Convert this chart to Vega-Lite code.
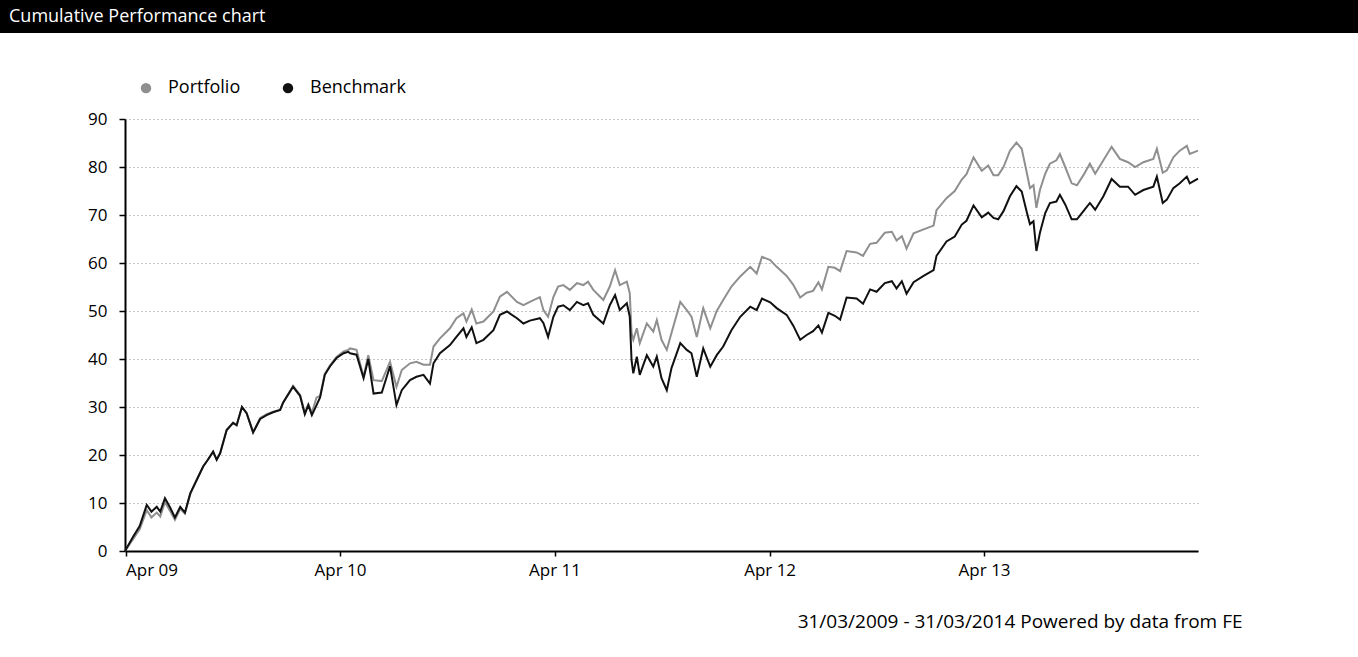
{
  "$schema": "https://vega.github.io/schema/vega-lite/v6.json",
  "padding": {"left": 0, "top": 0, "right": 0, "bottom": 30},
  "background": "white",
  "spacing": 46,
  "resolve": {"legend": {"color": "independent"}},
  "config": {"font": "Open Sans", "view": {"stroke": null}},
  "vconcat": [
    {
      "width": 1358,
      "height": 33,
      "view": {"fill": "black", "stroke": null},
      "title": {"text": "Cumulative Performance chart", "anchor": "start", "orient": "top", "offset": -17, "dy": 18, "baseline": "middle", "dx": 9, "color": "white", "fontSize": 18, "fontWeight": "normal", "font": "Open Sans"},
      "data": {"values": [{"t": ""}]},
      "mark": {"type": "text", "color": "white"},
      "encoding": {"text": {"field": "t"}}
    },
    {
      "width": 1358,
      "height": 432,
      "data": {"values": [
        {"date": "2009-03-31", "Portfolio": 0, "Benchmark": 0},
        {"date": "2009-04-14", "Portfolio": 2.5, "Benchmark": 3},
        {"date": "2009-04-25", "Portfolio": 4.5, "Benchmark": 5.2},
        {"date": "2009-05-07", "Portfolio": 8.5, "Benchmark": 9.6},
        {"date": "2009-05-15", "Portfolio": 7.0, "Benchmark": 8.2},
        {"date": "2009-05-24", "Portfolio": 8.0, "Benchmark": 9.2},
        {"date": "2009-05-30", "Portfolio": 7.2, "Benchmark": 8.2},
        {"date": "2009-06-07", "Portfolio": 10.2, "Benchmark": 11.0},
        {"date": "2009-06-16", "Portfolio": 8.3, "Benchmark": 9.0},
        {"date": "2009-06-24", "Portfolio": 6.5, "Benchmark": 7.0},
        {"date": "2009-07-03", "Portfolio": 8.8, "Benchmark": 9.2},
        {"date": "2009-07-11", "Portfolio": 7.8, "Benchmark": 8.0},
        {"date": "2009-07-20", "Portfolio": 11.8, "Benchmark": 12.0},
        {"date": "2009-07-31", "Portfolio": 14.8, "Benchmark": 14.8},
        {"date": "2009-08-11", "Portfolio": 17.6, "Benchmark": 17.6},
        {"date": "2009-08-19", "Portfolio": 19.0, "Benchmark": 19.0},
        {"date": "2009-08-28", "Portfolio": 20.7, "Benchmark": 20.7},
        {"date": "2009-09-03", "Portfolio": 19.0, "Benchmark": 19.0},
        {"date": "2009-09-09", "Portfolio": 20.4, "Benchmark": 20.4},
        {"date": "2009-09-20", "Portfolio": 25.2, "Benchmark": 25.2},
        {"date": "2009-10-01", "Portfolio": 26.7, "Benchmark": 26.7},
        {"date": "2009-10-07", "Portfolio": 26.2, "Benchmark": 26.2},
        {"date": "2009-10-16", "Portfolio": 30.0, "Benchmark": 30.0},
        {"date": "2009-10-24", "Portfolio": 28.7, "Benchmark": 28.7},
        {"date": "2009-11-04", "Portfolio": 24.7, "Benchmark": 24.7},
        {"date": "2009-11-16", "Portfolio": 27.7, "Benchmark": 27.5},
        {"date": "2009-11-27", "Portfolio": 28.5, "Benchmark": 28.3},
        {"date": "2009-12-08", "Portfolio": 29.0, "Benchmark": 28.9},
        {"date": "2009-12-20", "Portfolio": 29.4, "Benchmark": 29.4},
        {"date": "2009-12-25", "Portfolio": 30.9, "Benchmark": 30.9},
        {"date": "2010-01-11", "Portfolio": 34.4, "Benchmark": 34.2},
        {"date": "2010-01-23", "Portfolio": 32.5, "Benchmark": 32.3},
        {"date": "2010-01-31", "Portfolio": 28.8, "Benchmark": 28.5},
        {"date": "2010-02-06", "Portfolio": 30.6, "Benchmark": 30.4},
        {"date": "2010-02-12", "Portfolio": 28.8, "Benchmark": 28.3},
        {"date": "2010-02-20", "Portfolio": 32.0, "Benchmark": 30.4},
        {"date": "2010-02-26", "Portfolio": 32.3, "Benchmark": 32.0},
        {"date": "2010-03-06", "Portfolio": 36.9, "Benchmark": 36.7},
        {"date": "2010-03-15", "Portfolio": 38.7, "Benchmark": 38.5},
        {"date": "2010-03-26", "Portfolio": 40.4, "Benchmark": 40.2},
        {"date": "2010-04-07", "Portfolio": 41.6, "Benchmark": 41.2},
        {"date": "2010-04-15", "Portfolio": 41.9, "Benchmark": 41.5},
        {"date": "2010-04-18", "Portfolio": 42.2, "Benchmark": 41.2},
        {"date": "2010-04-29", "Portfolio": 41.9, "Benchmark": 40.9},
        {"date": "2010-05-11", "Portfolio": 36.3, "Benchmark": 36.0},
        {"date": "2010-05-19", "Portfolio": 40.8, "Benchmark": 40.0},
        {"date": "2010-05-28", "Portfolio": 35.6, "Benchmark": 32.8},
        {"date": "2010-06-11", "Portfolio": 35.4, "Benchmark": 33.0},
        {"date": "2010-06-25", "Portfolio": 39.4, "Benchmark": 38.5},
        {"date": "2010-07-06", "Portfolio": 34.2, "Benchmark": 30.4},
        {"date": "2010-07-15", "Portfolio": 37.7, "Benchmark": 33.5},
        {"date": "2010-07-29", "Portfolio": 39.1, "Benchmark": 35.6},
        {"date": "2010-08-09", "Portfolio": 39.4, "Benchmark": 36.3},
        {"date": "2010-08-21", "Portfolio": 38.8, "Benchmark": 36.7},
        {"date": "2010-09-01", "Portfolio": 38.8, "Benchmark": 34.9},
        {"date": "2010-09-07", "Portfolio": 42.6, "Benchmark": 39.1},
        {"date": "2010-09-18", "Portfolio": 44.3, "Benchmark": 41.2},
        {"date": "2010-10-05", "Portfolio": 46.4, "Benchmark": 42.9},
        {"date": "2010-10-16", "Portfolio": 48.5, "Benchmark": 44.6},
        {"date": "2010-10-28", "Portfolio": 49.5, "Benchmark": 46.4},
        {"date": "2010-11-02", "Portfolio": 47.8, "Benchmark": 44.6},
        {"date": "2010-11-11", "Portfolio": 50.3, "Benchmark": 46.6},
        {"date": "2010-11-19", "Portfolio": 47.4, "Benchmark": 43.3},
        {"date": "2010-12-01", "Portfolio": 47.8, "Benchmark": 44.0},
        {"date": "2010-12-18", "Portfolio": 49.9, "Benchmark": 46.0},
        {"date": "2010-12-29", "Portfolio": 53.0, "Benchmark": 49.2},
        {"date": "2011-01-10", "Portfolio": 54.0, "Benchmark": 49.9},
        {"date": "2011-01-27", "Portfolio": 51.9, "Benchmark": 48.5},
        {"date": "2011-02-07", "Portfolio": 51.2, "Benchmark": 47.4},
        {"date": "2011-02-18", "Portfolio": 51.9, "Benchmark": 48.0},
        {"date": "2011-03-07", "Portfolio": 52.9, "Benchmark": 48.5},
        {"date": "2011-03-13", "Portfolio": 50.2, "Benchmark": 47.5},
        {"date": "2011-03-21", "Portfolio": 48.8, "Benchmark": 44.6},
        {"date": "2011-03-30", "Portfolio": 52.9, "Benchmark": 48.8},
        {"date": "2011-04-07", "Portfolio": 55.1, "Benchmark": 50.9},
        {"date": "2011-04-16", "Portfolio": 55.4, "Benchmark": 51.2},
        {"date": "2011-04-27", "Portfolio": 54.4, "Benchmark": 50.2},
        {"date": "2011-05-09", "Portfolio": 55.8, "Benchmark": 51.9},
        {"date": "2011-05-20", "Portfolio": 55.4, "Benchmark": 51.2},
        {"date": "2011-05-28", "Portfolio": 56.1, "Benchmark": 51.6},
        {"date": "2011-06-06", "Portfolio": 54.4, "Benchmark": 49.2},
        {"date": "2011-06-23", "Portfolio": 52.3, "Benchmark": 47.4},
        {"date": "2011-07-04", "Portfolio": 55.1, "Benchmark": 51.2},
        {"date": "2011-07-13", "Portfolio": 58.5, "Benchmark": 53.3},
        {"date": "2011-07-21", "Portfolio": 55.4, "Benchmark": 50.2},
        {"date": "2011-08-02", "Portfolio": 56.1, "Benchmark": 51.6},
        {"date": "2011-08-07", "Portfolio": 53.7, "Benchmark": 48.8},
        {"date": "2011-08-10", "Portfolio": 45.4, "Benchmark": 39.8},
        {"date": "2011-08-13", "Portfolio": 44.0, "Benchmark": 37.0},
        {"date": "2011-08-19", "Portfolio": 46.4, "Benchmark": 40.5},
        {"date": "2011-08-24", "Portfolio": 43.3, "Benchmark": 36.7},
        {"date": "2011-09-05", "Portfolio": 47.4, "Benchmark": 40.8},
        {"date": "2011-09-16", "Portfolio": 45.7, "Benchmark": 38.4},
        {"date": "2011-09-22", "Portfolio": 48.1, "Benchmark": 40.5},
        {"date": "2011-09-30", "Portfolio": 44.0, "Benchmark": 36.0},
        {"date": "2011-10-09", "Portfolio": 41.9, "Benchmark": 33.5},
        {"date": "2011-10-17", "Portfolio": 45.4, "Benchmark": 38.1},
        {"date": "2011-11-01", "Portfolio": 51.9, "Benchmark": 43.3},
        {"date": "2011-11-12", "Portfolio": 50.2, "Benchmark": 41.9},
        {"date": "2011-11-20", "Portfolio": 48.8, "Benchmark": 41.2},
        {"date": "2011-11-29", "Portfolio": 44.6, "Benchmark": 36.3},
        {"date": "2011-12-10", "Portfolio": 50.6, "Benchmark": 42.2},
        {"date": "2011-12-22", "Portfolio": 46.4, "Benchmark": 38.4},
        {"date": "2012-01-02", "Portfolio": 50.0, "Benchmark": 40.8},
        {"date": "2012-01-13", "Portfolio": 52.3, "Benchmark": 42.6},
        {"date": "2012-01-27", "Portfolio": 55.1, "Benchmark": 46.0},
        {"date": "2012-02-11", "Portfolio": 57.2, "Benchmark": 48.8},
        {"date": "2012-02-28", "Portfolio": 59.2, "Benchmark": 50.9},
        {"date": "2012-03-10", "Portfolio": 57.8, "Benchmark": 50.2},
        {"date": "2012-03-19", "Portfolio": 61.3, "Benchmark": 52.6},
        {"date": "2012-04-02", "Portfolio": 60.6, "Benchmark": 51.8},
        {"date": "2012-04-13", "Portfolio": 59.2, "Benchmark": 50.6},
        {"date": "2012-04-30", "Portfolio": 57.3, "Benchmark": 49.2},
        {"date": "2012-05-11", "Portfolio": 55.5, "Benchmark": 47.0},
        {"date": "2012-05-23", "Portfolio": 52.8, "Benchmark": 44.0},
        {"date": "2012-06-03", "Portfolio": 53.8, "Benchmark": 45.0},
        {"date": "2012-06-14", "Portfolio": 54.2, "Benchmark": 45.8},
        {"date": "2012-06-23", "Portfolio": 56.0, "Benchmark": 47.0},
        {"date": "2012-06-29", "Portfolio": 54.5, "Benchmark": 45.5},
        {"date": "2012-07-10", "Portfolio": 59.2, "Benchmark": 49.6},
        {"date": "2012-07-21", "Portfolio": 59.0, "Benchmark": 49.0},
        {"date": "2012-07-30", "Portfolio": 58.3, "Benchmark": 48.2},
        {"date": "2012-08-10", "Portfolio": 62.5, "Benchmark": 52.8},
        {"date": "2012-08-27", "Portfolio": 62.2, "Benchmark": 52.6},
        {"date": "2012-09-07", "Portfolio": 61.5, "Benchmark": 51.5},
        {"date": "2012-09-19", "Portfolio": 64.0, "Benchmark": 54.5},
        {"date": "2012-09-30", "Portfolio": 64.2, "Benchmark": 54.0},
        {"date": "2012-10-14", "Portfolio": 66.3, "Benchmark": 55.8},
        {"date": "2012-10-26", "Portfolio": 66.5, "Benchmark": 56.2},
        {"date": "2012-11-03", "Portfolio": 64.7, "Benchmark": 54.7},
        {"date": "2012-11-12", "Portfolio": 65.6, "Benchmark": 56.2},
        {"date": "2012-11-20", "Portfolio": 63.0, "Benchmark": 53.6},
        {"date": "2012-12-02", "Portfolio": 66.2, "Benchmark": 56.0},
        {"date": "2012-12-19", "Portfolio": 67.0, "Benchmark": 57.3},
        {"date": "2013-01-05", "Portfolio": 67.8, "Benchmark": 58.5},
        {"date": "2013-01-10", "Portfolio": 71.0, "Benchmark": 61.5},
        {"date": "2013-01-27", "Portfolio": 73.5, "Benchmark": 64.5},
        {"date": "2013-02-10", "Portfolio": 75.0, "Benchmark": 65.5},
        {"date": "2013-02-22", "Portfolio": 77.4, "Benchmark": 68.0},
        {"date": "2013-03-02", "Portfolio": 78.5, "Benchmark": 68.8},
        {"date": "2013-03-14", "Portfolio": 82.0, "Benchmark": 72.0},
        {"date": "2013-03-28", "Portfolio": 79.2, "Benchmark": 69.5},
        {"date": "2013-04-08", "Portfolio": 80.3, "Benchmark": 70.5},
        {"date": "2013-04-17", "Portfolio": 78.3, "Benchmark": 69.4},
        {"date": "2013-04-25", "Portfolio": 78.3, "Benchmark": 69.1},
        {"date": "2013-05-04", "Portfolio": 80.0, "Benchmark": 70.8},
        {"date": "2013-05-15", "Portfolio": 83.4, "Benchmark": 73.9},
        {"date": "2013-05-26", "Portfolio": 85.1, "Benchmark": 76.0},
        {"date": "2013-06-04", "Portfolio": 83.8, "Benchmark": 74.9},
        {"date": "2013-06-13", "Portfolio": 78.6, "Benchmark": 70.4},
        {"date": "2013-06-18", "Portfolio": 75.6, "Benchmark": 68.1},
        {"date": "2013-06-24", "Portfolio": 76.2, "Benchmark": 68.7},
        {"date": "2013-06-29", "Portfolio": 71.5, "Benchmark": 62.5},
        {"date": "2013-07-05", "Portfolio": 75.2, "Benchmark": 66.3},
        {"date": "2013-07-14", "Portfolio": 78.6, "Benchmark": 70.4},
        {"date": "2013-07-22", "Portfolio": 80.7, "Benchmark": 72.5},
        {"date": "2013-08-02", "Portfolio": 81.4, "Benchmark": 72.8},
        {"date": "2013-08-08", "Portfolio": 82.7, "Benchmark": 74.2},
        {"date": "2013-08-17", "Portfolio": 80.0, "Benchmark": 72.2},
        {"date": "2013-08-28", "Portfolio": 76.6, "Benchmark": 69.1},
        {"date": "2013-09-06", "Portfolio": 76.2, "Benchmark": 69.1},
        {"date": "2013-09-17", "Portfolio": 78.3, "Benchmark": 70.8},
        {"date": "2013-09-28", "Portfolio": 80.7, "Benchmark": 72.5},
        {"date": "2013-10-07", "Portfolio": 78.6, "Benchmark": 71.1},
        {"date": "2013-10-21", "Portfolio": 81.4, "Benchmark": 73.9},
        {"date": "2013-11-04", "Portfolio": 84.2, "Benchmark": 77.5},
        {"date": "2013-11-18", "Portfolio": 81.7, "Benchmark": 75.9},
        {"date": "2013-12-02", "Portfolio": 81.0, "Benchmark": 75.9},
        {"date": "2013-12-14", "Portfolio": 80.0, "Benchmark": 74.2},
        {"date": "2013-12-28", "Portfolio": 81.0, "Benchmark": 75.2},
        {"date": "2014-01-14", "Portfolio": 81.7, "Benchmark": 75.9},
        {"date": "2014-01-20", "Portfolio": 83.8, "Benchmark": 78.0},
        {"date": "2014-01-30", "Portfolio": 78.8, "Benchmark": 72.5},
        {"date": "2014-02-06", "Portfolio": 79.3, "Benchmark": 73.2},
        {"date": "2014-02-17", "Portfolio": 82.0, "Benchmark": 75.6},
        {"date": "2014-02-28", "Portfolio": 83.4, "Benchmark": 76.6},
        {"date": "2014-03-12", "Portfolio": 84.4, "Benchmark": 78.0},
        {"date": "2014-03-17", "Portfolio": 82.7, "Benchmark": 76.6},
        {"date": "2014-03-31", "Portfolio": 83.4, "Benchmark": 77.6}
      ]},
      "transform": [{"fold": ["Portfolio", "Benchmark"], "as": ["series", "value"]}],
      "mark": {"type": "line", "strokeWidth": 2},
      "encoding": {
        "x": {
          "field": "date", "type": "temporal",
          "scale": {"type": "utc", "range": [125, 1198], "domain": [{"year": 2009, "month": 3, "date": 31, "utc": true}, {"year": 2014, "month": 3, "date": 31, "utc": true}]},
          "axis": {
            "values": [
              {"year": 2009, "month": 4, "date": 1, "utc": true},
              {"year": 2010, "month": 4, "date": 1, "utc": true},
              {"year": 2011, "month": 4, "date": 1, "utc": true},
              {"year": 2012, "month": 4, "date": 1, "utc": true},
              {"year": 2013, "month": 4, "date": 1, "utc": true}
            ],
            "format": "%b %y",
            "grid": false,
            "domainColor": "black", "domainWidth": 2,
            "tickColor": "black", "tickSize": 5, "tickWidth": 1.5,
            "labelFontSize": 17, "labelColor": "black", "labelPadding": 6, "labelFont": "Open Sans",
            "title": "31/03/2009 - 31/03/2014 Powered by data from FE",
            "titleFontSize": 19, "titleFontWeight": "normal", "titleColor": "black", "titleFont": "Open Sans",
            "titleAlign": "right", "titleX": 1242, "titleY": 70, "titleBaseline": "middle"
          }
        },
        "y": {
          "field": "value", "type": "quantitative",
          "scale": {"domain": [0, 90], "nice": false},
          "axis": {
            "values": [0, 10, 20, 30, 40, 50, 60, 70, 80, 90],
            "title": null,
            "offset": -125,
            "grid": true, "gridColor": "#8a8a8a", "gridDash": [1, 3], "gridWidth": 1,
            "domainColor": "black", "domainWidth": 2,
            "tickColor": "black", "tickSize": 6, "tickWidth": 1.5,
            "labelFontSize": 17, "labelColor": "black", "labelPadding": 12, "labelFont": "Open Sans"
          }
        },
        "color": {
          "field": "series", "type": "nominal",
          "scale": {"domain": ["Portfolio", "Benchmark"], "range": ["#8f8f8f", "#111111"]},
          "legend": {
            "title": null, "orient": "none", "direction": "horizontal",
            "legendX": 137, "legendY": -40,
            "symbolType": "circle", "symbolSize": 30, "symbolStrokeWidth": 5,
            "labelFontSize": 18, "labelColor": "black", "labelFont": "Open Sans", "labelOffset": 13,
            "columnPadding": 34
          }
        }
      }
    }
  ]
}
